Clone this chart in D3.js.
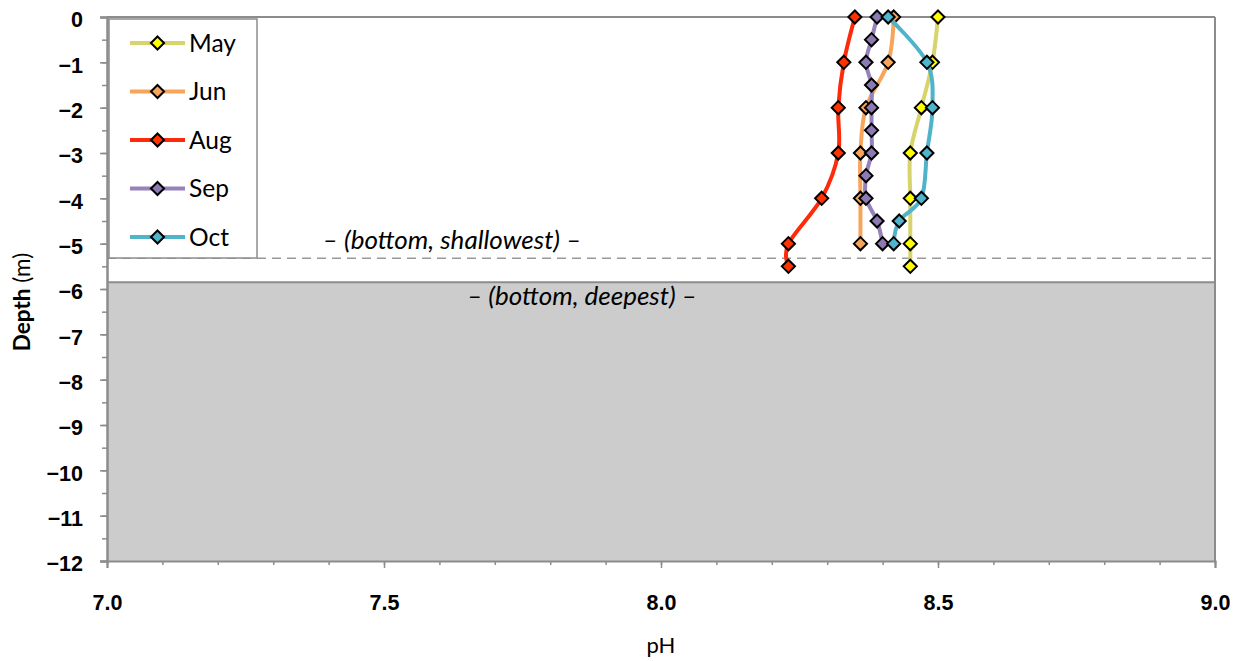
<!DOCTYPE html>
<html>
<head>
<meta charset="utf-8">
<script src="https://cdn.jsdelivr.net/npm/d3@7"></script>
<style>
  body { margin: 0; background: #fff; }
  svg { font-family: Lato, "Open Sans", sans-serif; }
</style>
</head>
<body>
<div id="vis"></div>
<script>
const SERIES_NAMES = ['May', 'Jun', 'Aug', 'Sep', 'Oct']

const MAY_DEPTH = [0, -1, -2, -3, -4, -5, -5.5]
const MAY_PH = [8.50, 8.49, 8.47, 8.45, 8.45, 8.45, 8.45]

const JUN_DEPTH = [0, -1, -2, -3, -4, -5]
const JUN_PH = [8.42, 8.41, 8.37, 8.36, 8.36, 8.36]

const AUG_DEPTH = [0, -1, -2, -3, -4, -5, -5.5]
const AUG_PH = [8.35, 8.33, 8.32, 8.32, 8.29, 8.23, 8.23]

const SEP_DEPTH = [0, -0.5, -1, -1.5, -2, -2.5, -3, -3.5, -4, -4.5, -5]
const SEP_PH = [8.39, 8.38, 8.37, 8.38, 8.38, 8.38, 8.38, 8.37, 8.37, 8.39, 8.40]

const OCT_DEPTH = [0, -1, -2, -3, -4, -4.5, -5]
const OCT_PH = [8.41, 8.48, 8.49, 8.48, 8.47, 8.43, 8.42]

const X_TICKS = [7.0, 7.5, 8.0, 8.5, 9.0]
const Y_TICKS = [0, -1, -2, -3, -4, -5, -6, -7, -8, -9, -10, -11, -12]

const BOTTOM_SHALLOWEST = -5.32
const BOTTOM_DEEPEST = -5.85

const LINE_COLORS = ['#d6d46a', '#f8a55c', '#ff2a0a', '#9582b8', '#4fb3ca']
const MARKER_COLORS = ['#ffff00', '#f8a55c', '#ff3300', '#8e7ab3', '#4fb5cc']

let series = [
    {name: 'May', depth: MAY_DEPTH, ph: MAY_PH},
    {name: 'Jun', depth: JUN_DEPTH, ph: JUN_PH},
    {name: 'Aug', depth: AUG_DEPTH, ph: AUG_PH},
    {name: 'Sep', depth: SEP_DEPTH, ph: SEP_PH},
    {name: 'Oct', depth: OCT_DEPTH, ph: OCT_PH}
].map((s, i) => ({
    name: s.name,
    line: LINE_COLORS[i],
    fill: MARKER_COLORS[i],
    points: s.depth.map((d, j) => ({depth: d, ph: s.ph[j]}))
}))

let width = 1243, height = 661
let margin = {top: 17, right: 28, bottom: 100, left: 107}

let svg = d3.select('#vis')
    .append('svg')
    .attr('width', width)
    .attr('height', height)

let x = d3.scaleLinear().domain([7, 9]).range([margin.left, width - margin.right])
let y = d3.scaleLinear().domain([0, -12]).range([margin.top, height - margin.bottom])

let axisColor = '#8c8c8c'

// grey "sediment" block below the deepest bottom
svg.append('rect')
    .attr('x', x(7))
    .attr('y', y(BOTTOM_DEEPEST))
    .attr('width', x(9) - x(7))
    .attr('height', y(-12) - y(BOTTOM_DEEPEST))
    .attr('fill', '#cccccc')

svg.append('line')
    .attr('x1', x(7)).attr('x2', x(9))
    .attr('y1', y(BOTTOM_DEEPEST)).attr('y2', y(BOTTOM_DEEPEST))
    .attr('stroke', axisColor)
    .attr('stroke-width', 2)

svg.append('line')
    .attr('x1', x(7)).attr('x2', x(9))
    .attr('y1', y(BOTTOM_SHALLOWEST)).attr('y2', y(BOTTOM_SHALLOWEST))
    .attr('stroke', '#999')
    .attr('stroke-width', 1.5)
    .attr('stroke-dasharray', '9 6')

// plot frame top / right
svg.append('line')
    .attr('x1', x(7)).attr('x2', x(9))
    .attr('y1', y(0)).attr('y2', y(0))
    .attr('stroke', axisColor).attr('stroke-width', 2)
svg.append('line')
    .attr('x1', x(9)).attr('x2', x(9))
    .attr('y1', y(0)).attr('y2', y(-12))
    .attr('stroke', axisColor).attr('stroke-width', 2)

// annotations
svg.append('text')
    .attr('x', 452).attr('y', y(BOTTOM_SHALLOWEST) - 9)
    .attr('text-anchor', 'middle')
    .style('font-style', 'italic')
    .style('font-size', '26px')
    .text('\u2013 (bottom, shallowest) \u2013')

svg.append('text')
    .attr('x', 582).attr('y', y(BOTTOM_DEEPEST) + 23)
    .attr('text-anchor', 'middle')
    .style('font-style', 'italic')
    .style('font-size', '26px')
    .text('\u2013 (bottom, deepest) \u2013')

// axes
let xMinor = d3.range(70, 91).map(v => v / 10)
svg.append('g')
    .attr('transform', `translate(0, ${y(-12)})`)
    .call(d3.axisBottom(x).tickValues(xMinor).tickSize(4).tickFormat(''))
    .call(g => g.select('.domain').remove())
    .call(g => g.selectAll('line').attr('stroke', axisColor).attr('stroke-width', 1.5))

let xAxis = svg.append('g')
    .attr('transform', `translate(0, ${y(-12)})`)
    .call(d3.axisBottom(x).tickValues(X_TICKS).tickSize(7).tickPadding(27).tickFormat(d3.format('.1f')))
xAxis.select('.domain').attr('stroke', axisColor).attr('stroke-width', 2)
xAxis.selectAll('line').attr('stroke', axisColor).attr('stroke-width', 1.5)
xAxis.selectAll('text')
    .style('font-size', '21.5px')
    .style('font-weight', 'bold')
    .attr('fill', '#000')

let yMinor = d3.range(0, 25).map(v => -v / 2)
svg.append('g')
    .attr('transform', `translate(${x(7)}, 0)`)
    .call(d3.axisLeft(y).tickValues(yMinor).tickSize(5).tickFormat(''))
    .call(g => g.select('.domain').remove())
    .call(g => g.selectAll('line').attr('stroke', axisColor).attr('stroke-width', 1.5))

let yAxis = svg.append('g')
    .attr('transform', `translate(${x(7)}, 0)`)
    .call(d3.axisLeft(y).tickValues(Y_TICKS).tickSize(7).tickPadding(17).tickFormat(d3.format('d')))
yAxis.select('.domain').attr('stroke', axisColor).attr('stroke-width', 2.5)
yAxis.selectAll('line').attr('stroke', axisColor).attr('stroke-width', 1.5)
yAxis.selectAll('text')
    .style('font-size', '21.5px')
    .style('font-weight', 'bold')
    .attr('dy', '0.45em')
    .attr('fill', '#000')

svg.append('text')
    .attr('x', x(8))
    .attr('y', 653)
    .attr('text-anchor', 'middle')
    .style('font-size', '22px')
    .text('pH')

let yTitle = svg.append('text')
    .attr('transform', `translate(30, 302) rotate(-90)`)
    .attr('text-anchor', 'middle')
    .style('font-size', '22.5px')
yTitle.append('tspan').style('font-weight', 'bold').text('Depth')
yTitle.append('tspan').text(' (m)')

// series
let line = d3.line()
    .x(d => x(d.ph))
    .y(d => y(d.depth))
    .curve(d3.curveCatmullRom.alpha(0))

let diamond = d3.symbol().type(d3.symbolDiamond2).size(110)

for (let s of series) {
    let g = svg.append('g')
    g.append('path')
        .datum(s.points)
        .attr('d', line)
        .attr('fill', 'none')
        .attr('stroke', s.line)
        .attr('stroke-width', 4)
    g.selectAll('path.marker')
        .data(s.points)
        .enter().append('path')
        .classed('marker', true)
        .attr('transform', d => `translate(${x(d.ph)}, ${y(d.depth)})`)
        .attr('d', diamond)
        .attr('fill', s.fill)
        .attr('stroke', '#000')
        .attr('stroke-width', 2)
}

// legend
let legend = svg.append('g')
legend.append('rect')
    .attr('x', 109).attr('y', 19)
    .attr('width', 148).attr('height', 239)
    .attr('fill', '#fff')
    .attr('stroke', axisColor)
    .attr('stroke-width', 1.5)

let legendY = d3.scalePoint().domain(SERIES_NAMES).range([43, 237])

let items = legend.selectAll('g.item')
    .data(series)
    .enter().append('g')
    .classed('item', true)
    .attr('transform', d => `translate(0, ${legendY(d.name)})`)

items.append('line')
    .attr('x1', 130).attr('x2', 185)
    .attr('stroke', d => d.line)
    .attr('stroke-width', 4)
items.append('path')
    .attr('transform', 'translate(157.5, 0)')
    .attr('d', diamond)
    .attr('fill', d => d.fill)
    .attr('stroke', '#000')
    .attr('stroke-width', 2)
items.append('text')
    .attr('x', 189)
    .attr('dy', '0.36em')
    .style('font-size', '24.5px')
    .text(d => d.name)
</script>
</body>
</html>
